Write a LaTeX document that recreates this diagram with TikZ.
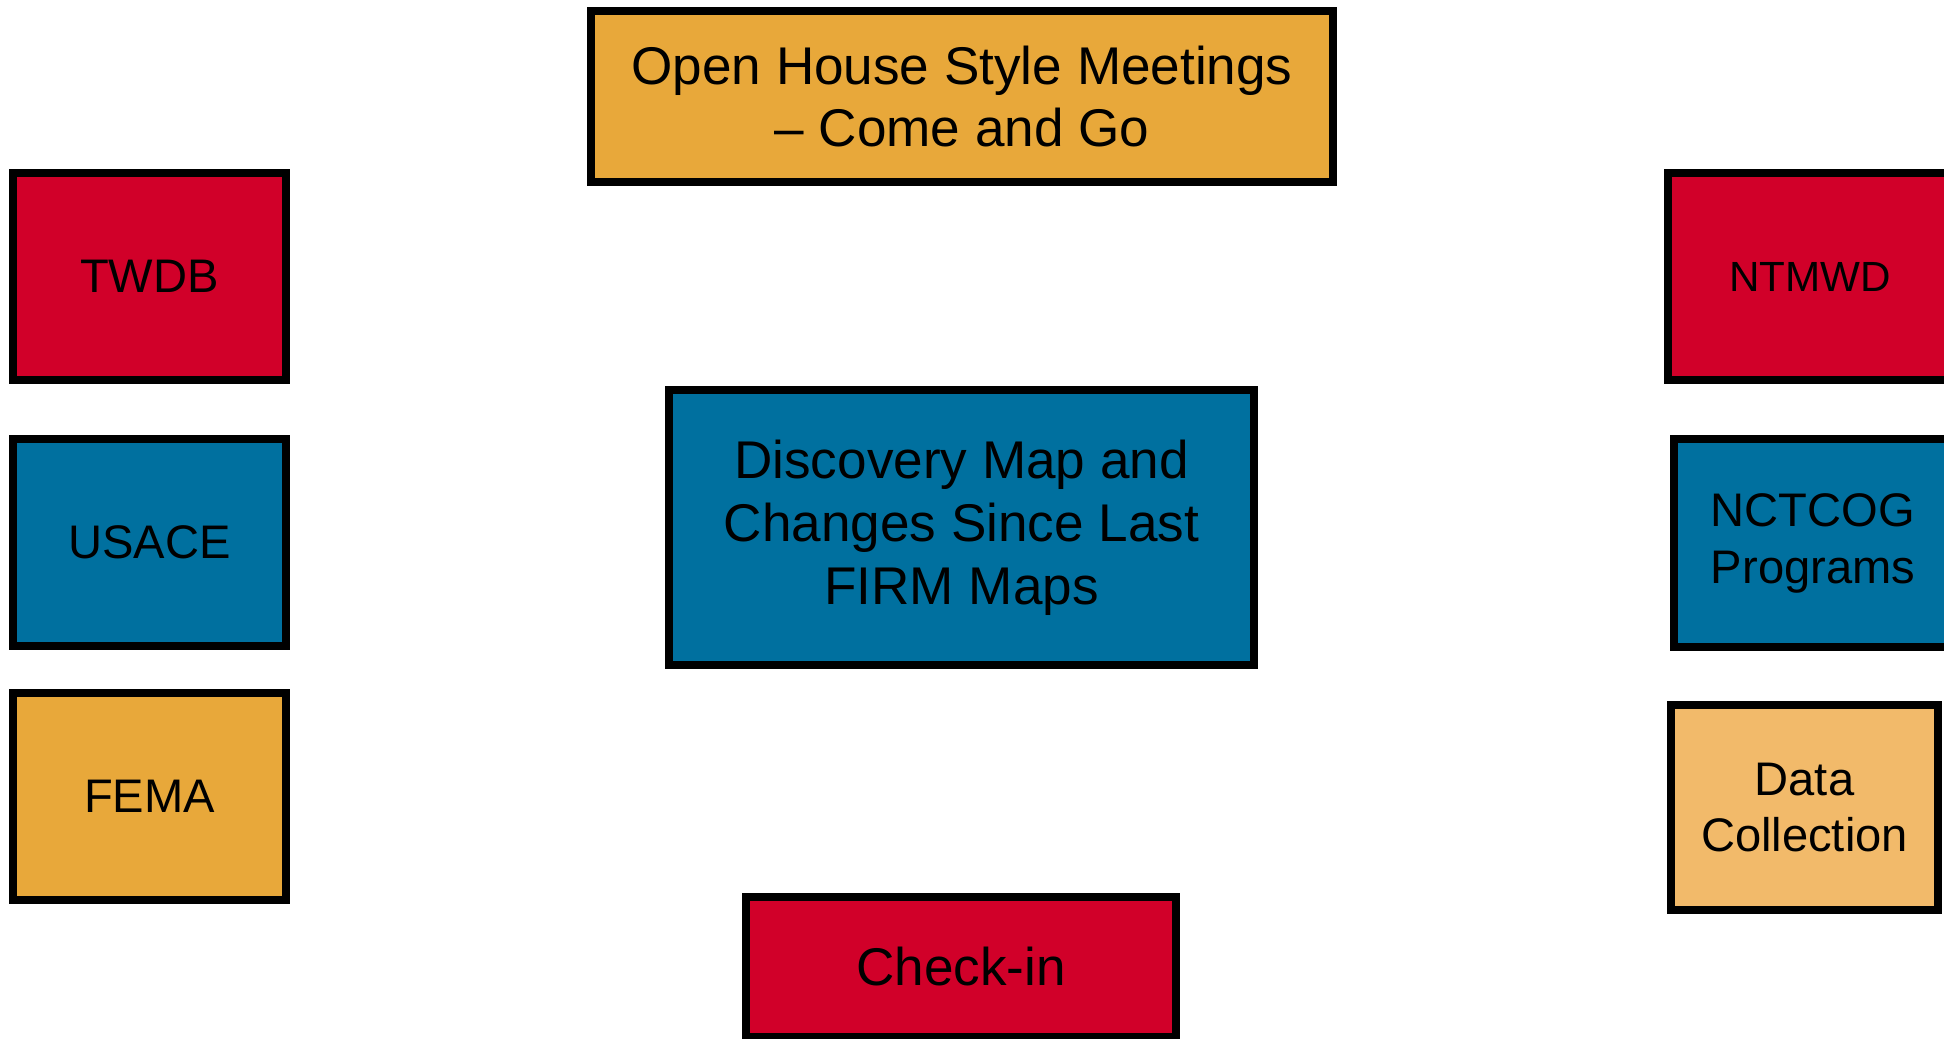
\documentclass[tikz,border=0pt]{standalone}
\usepackage{fontspec}
\setmainfont{Liberation Sans}
\usetikzlibrary{positioning}
\definecolor{mapred}{HTML}{D10029}
\definecolor{mapblue}{HTML}{00709F}
\definecolor{mapgold}{HTML}{E8A83A}
\definecolor{mapsand}{HTML}{F2BA6A}
\tikzset{
  box/.style={
      draw,
      rectangle,
      line width=0.08cm,
      inner sep=0pt,
      align=center,
      text centered,
      font=\fontsize{13.4}{16.2}\selectfont,
  },
  box+/.style={
      box,
      font=\fontsize{15.1}{17.9}\selectfont,
  }
}
\begin{document}
\begin{tikzpicture}[x=0.01cm,y=-0.01cm]
    \useasboundingbox (0,0) rectangle (1944,1038);
    % middle column
    \node[box+, fill=mapgold, minimum width=7.42cm, minimum height=1.71cm] (meet) at (962,96.5) {Open House Style Meetings\\– Come and Go};
    \node[box+, fill=mapblue, minimum width=5.85cm, minimum height=2.75cm] (disc) at (961.5,527.5) {Discovery Map and\\Changes Since Last\\FIRM Maps};
    \node[box+, fill=mapred, minimum width=4.30cm, minimum height=1.40cm] (check) at (961,967) {Check-in};
    % left column
    \node[box, fill=mapred, minimum width=2.73cm, minimum height=2.07cm] (twdb) at (149.5,276.5) {TWDB};
    \node[box, fill=mapblue, minimum width=2.73cm, minimum height=2.07cm] (usace) at (149.5,542.5) {USACE};
    \node[box, fill=mapgold, minimum width=2.73cm, minimum height=2.07cm] (fema) at (149.5,796.5) {FEMA};
    % right column
    \node[box, fill=mapred, minimum width=2.84cm, minimum height=2.07cm, font=\fontsize{12}{14.4}\selectfont] (ntmwd) at (1810,276.5) {NTMWD};
    \node[box, fill=mapblue, minimum width=2.78cm, minimum height=2.08cm] (nctcog) at (1813,543) {NCTCOG\\Programs};
    \node[box, fill=mapsand, minimum width=2.67cm, minimum height=2.05cm] (data) at (1804.5,807.5) {Data\\Collection};
\end{tikzpicture}
\end{document}
